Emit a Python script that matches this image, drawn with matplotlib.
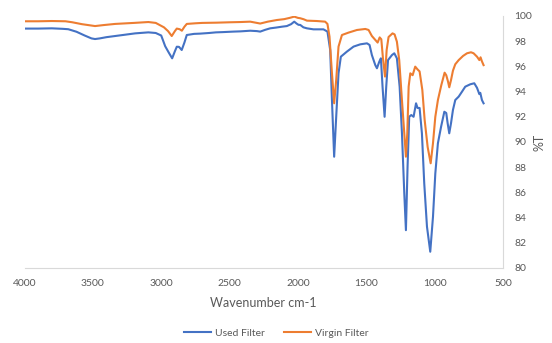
import matplotlib
matplotlib.use("Agg")
import matplotlib.pyplot as plt

# --- data ---
used_wn = [4000, 3900, 3800, 3720, 3680, 3620, 3560, 3510, 3484, 3450, 3400, 3337,
           3260, 3191, 3094, 3040, 3000, 2971, 2945, 2920, 2900, 2886, 2870, 2850,
           2830, 2813, 2760, 2715, 2650, 2600, 2550, 2472, 2420, 2349, 2300, 2276,
           2240, 2203, 2160, 2117, 2081, 2050, 2027, 2010, 1996, 1983, 1960, 1934,
           1886, 1813, 1784, 1764, 1751, 1735, 1720, 1703, 1686, 1642, 1593, 1544,
           1495, 1476, 1459, 1434, 1422, 1405, 1393, 1381, 1366, 1354, 1341, 1312,
           1295, 1276, 1256, 1239, 1222, 1210, 1198, 1186, 1171, 1154, 1136, 1125,
           1110, 1093, 1076, 1056, 1032, 1012, 995, 976, 953, 929, 915, 905, 893,
           880, 866, 849, 824, 800, 776, 739, 710, 690, 673, 666, 654, 642]
used_t = [99.00, 99.00, 99.02, 98.98, 98.95, 98.75, 98.45, 98.22, 98.17, 98.22, 98.32, 98.41,
          98.52, 98.62, 98.70, 98.65, 98.45, 97.60, 97.10, 96.64, 97.20, 97.56, 97.55, 97.30,
          97.90, 98.49, 98.58, 98.60, 98.65, 98.70, 98.72, 98.76, 98.78, 98.83, 98.80, 98.76,
          98.90, 99.02, 99.08, 99.15, 99.20, 99.35, 99.55, 99.40, 99.30, 99.29, 99.10, 99.02,
          98.94, 98.94, 98.76, 97.30, 93.30, 88.83, 92.00, 95.45, 96.77, 97.17, 97.57, 97.75,
          97.83, 97.70, 96.90, 96.10, 95.85, 96.37, 96.64, 94.39, 92.00, 94.39, 96.50, 96.90,
          97.04, 96.64, 94.39, 90.69, 85.93, 83.00, 88.04, 92.00, 92.14, 92.00, 93.07, 92.70,
          92.70, 90.69, 86.72, 83.28, 81.29, 84.07, 87.50, 89.90, 91.20, 92.40, 92.30, 91.50, 90.69,
          91.50, 92.54, 93.33, 93.60, 93.99, 94.39, 94.58, 94.66, 94.30, 93.80, 93.90, 93.33, 93.07]

virgin_wn = [4000, 3900, 3800, 3700, 3650, 3580, 3484, 3420, 3337, 3200, 3094, 3040,
             2980, 2950, 2923, 2900, 2886, 2865, 2849, 2830, 2813, 2750, 2700, 2594,
             2500, 2420, 2349, 2300, 2276, 2220, 2154, 2100, 2060, 2027, 2000, 1983,
             1958, 1934, 1862, 1801, 1784, 1769, 1751, 1735, 1720, 1703, 1678, 1630,
             1568, 1507, 1483, 1459, 1434, 1417, 1402, 1390, 1378, 1363, 1351, 1337,
             1308, 1293, 1276, 1259, 1239, 1222, 1210, 1200, 1190, 1178, 1161, 1142,
             1125, 1110, 1090, 1073, 1051, 1029, 1012, 995, 976, 951, 927, 915, 902,
             893, 880, 866, 849, 824, 792, 763, 734, 715, 690, 673, 664, 654, 642]
virgin_t = [99.58, 99.58, 99.60, 99.58, 99.50, 99.35, 99.20, 99.28, 99.37, 99.45, 99.52, 99.45,
            99.10, 98.80, 98.41, 98.80, 99.00, 98.95, 98.83, 99.15, 99.37, 99.42, 99.45, 99.47,
            99.50, 99.52, 99.55, 99.45, 99.40, 99.55, 99.68, 99.75, 99.85, 99.95, 99.85, 99.82,
            99.74, 99.63, 99.60, 99.55, 99.37, 98.36, 95.45, 93.07, 94.92, 97.57, 98.49, 98.68,
            98.89, 98.97, 98.89, 98.41, 98.10, 97.89, 98.30, 98.15, 96.64, 95.19, 97.30, 98.33,
            98.62, 98.54, 97.96, 96.50, 93.30, 90.69, 88.83, 90.70, 94.40, 95.45, 95.30, 95.98,
            95.76, 95.60, 94.13, 91.75, 89.60, 88.31, 89.90, 92.00, 93.33, 94.52, 95.50, 95.30, 94.79,
            94.34, 94.92, 95.66, 96.17, 96.50, 96.83, 97.04, 97.12, 97.04, 96.77, 96.50, 96.72, 96.40, 96.10]

x_ticks = [4000, 3500, 3000, 2500, 2000, 1500, 1000, 500]
y_ticks = [80, 82, 84, 86, 88, 90, 92, 94, 96, 98, 100]

plt.rcParams['font.family'] = ['Lato', 'DejaVu Sans']

fig = plt.figure(figsize=(5.52, 3.43), dpi=100)
ax = fig.add_axes([0.0444, 0.2187, 0.8668, 0.7347])

ax.plot(used_wn, used_t, color='#4472C4', lw=1.5, label='Used Filter')
ax.plot(virgin_wn, virgin_t, color='#ED7D31', lw=1.5, label='Virgin Filter')

ax.set_xlim(4000, 500)
ax.set_ylim(80, 100)
ax.set_xticks(x_ticks)
ax.set_yticks(y_ticks)
ax.yaxis.tick_right()
ax.tick_params(length=0, labelsize=7.5, labelcolor='#595959', pad=8)

for side in ['top', 'left']:
    ax.spines[side].set_visible(False)
for side in ['bottom', 'right']:
    ax.spines[side].set_color('#d9d9d9')
    ax.spines[side].set_linewidth(0.8)

fig.text(0.4777, 0.1166, 'Wavenumber cm-1', ha='center', va='center',
         fontsize=9, color='#595959')
fig.text(0.978, 0.586, '%T', ha='center', va='center', rotation=90,
         fontsize=9, color='#595959')

leg = fig.legend(loc='center', bbox_to_anchor=(0.5, 0.029), ncol=2, frameon=False,
                 fontsize=7.5, handlelength=2.6, columnspacing=1.8, handletextpad=0.4)
for t in leg.get_texts():
    t.set_color('#595959')

fig.savefig('out.png', dpi=100)
